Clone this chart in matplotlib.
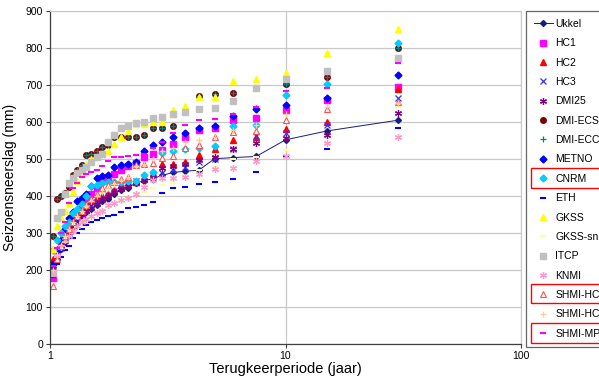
import matplotlib
matplotlib.use("Agg")
import matplotlib.pyplot as plt
from matplotlib.patches import Rectangle
import numpy as np

plt.rcParams['font.family'] = ['Liberation Sans', 'DejaVu Sans']

# Return periods (years), rank 1..29 -> T = 30/rank
ranks = list(range(1, 30))
T = [30.0 / m for m in ranks]

# Values listed from rank 1 (T=30) down to rank 29 (T~1.03)
ukkel = [604, 575, 551, 506, 503, 500, 469, 466, 463, 455, 446, 440, 435, 420, 415,
         405, 392, 385, 375, 365, 355, 345, 332, 318, 298, 275, 255, 228, 200]
hc1 = [695, 660, 632, 611, 604, 582, 578, 560, 540, 523, 514, 505, 488, 480, 470,
       460, 450, 440, 420, 405, 395, 375, 355, 340, 320, 290, 271, 250, 178]
hc2 = [688, 598, 580, 558, 550, 526, 510, 492, 487, 485, 455, 445, 438, 432, 428,
       415, 405, 400, 395, 385, 375, 365, 350, 335, 320, 300, 280, 255, 230]
hc3 = [665, 591, 569, 562, 525, 500, 490, 478, 470, 462, 452, 448, 440, 428, 420,
       412, 402, 392, 382, 372, 362, 350, 338, 320, 300, 280, 258, 235, 205]
dmi25 = [623, 564, 557, 543, 525, 505, 496, 487, 480, 474, 450, 442, 435, 425, 418,
         410, 400, 390, 378, 368, 358, 345, 330, 318, 300, 285, 265, 240, 210]
dmi_ecs = [798, 722, 701, 690, 677, 674, 670, 625, 588, 584, 582, 564, 560, 560, 560,
           560, 537, 532, 520, 513, 510, 483, 470, 456, 424, 406, 400, 391, 290]
dmi_ecc = list(dmi_ecs)
metno = [726, 665, 645, 634, 616, 589, 584, 569, 560, 546, 537, 521, 492, 487, 483,
         478, 456, 452, 447, 425, 405, 395, 385, 355, 340, 310, 280, 250, 215]
cnrm = [812, 702, 672, 592, 588, 535, 528, 525, 521, 515, 465, 456, 440, 440, 438,
        438, 436, 433, 430, 425, 400, 378, 365, 352, 330, 318, 300, 280, 253]
eth = [584, 525, 507, 465, 445, 438, 432, 424, 420, 406, 384, 375, 370, 366, 355,
       348, 345, 339, 335, 328, 321, 310, 300, 285, 265, 253, 235, 215, 180]
gkss = [850, 785, 731, 715, 710, 668, 666, 642, 632, 600, 598, 595, 593, 575, 560,
        539, 520, 513, 505, 500, 487, 460, 440, 410, 380, 360, 340, 318, 255]
gkss_sn = [640, 540, 523, 505, 500, 480, 470, 450, 435, 428, 420, 410, 405, 395, 385,
           378, 370, 362, 355, 345, 335, 325, 315, 300, 290, 275, 255, 235, 195]
itcp = [773, 737, 715, 692, 656, 638, 633, 625, 620, 614, 611, 598, 596, 588, 582,
        564, 546, 512, 505, 490, 478, 470, 462, 449, 435, 405, 355, 340, 190]
knmi = [560, 542, 507, 495, 474, 471, 459, 451, 449, 447, 442, 424, 405, 393, 388,
        380, 375, 360, 352, 345, 338, 328, 318, 305, 292, 280, 262, 240, 195]
shmi_hc = [654, 633, 605, 576, 573, 558, 537, 528, 508, 501, 489, 485, 483, 450, 445,
           438, 430, 420, 405, 390, 375, 360, 345, 330, 310, 290, 265, 230, 157]
shmi_hc2 = [650, 640, 620, 590, 578, 560, 550, 546, 530, 520, 500, 485, 480, 450, 442,
            432, 420, 410, 398, 385, 372, 360, 345, 330, 310, 290, 268, 240, 200]
shmi_mpi = [760, 690, 683, 640, 620, 608, 604, 591, 570, 545, 528, 512, 510, 507, 505,
            504, 495, 480, 470, 465, 460, 450, 435, 420, 380, 330, 300, 260, 210]

x_ticks = [1, 10, 100]
y_ticks = list(range(0, 1000, 100))

fig = plt.figure(figsize=(5.99, 3.77), dpi=100)
ax = fig.add_axes([50 / 599, 1 - 343.7 / 377, 471 / 599, 333 / 377])

ms = 4
star = (6, 2, 0)
series = [
    ("Ukkel", ukkel, dict(color="#1A1A80", marker="D", markersize=3, linestyle="-", linewidth=0.7)),
    ("HC1", hc1, dict(color="#FF00FF", marker="s", markersize=ms, linestyle="none")),
    ("HC2", hc2, dict(color="#FF0000", marker="^", markersize=ms, linestyle="none")),
    ("HC3", hc3, dict(color="#3333FF", marker="x", markersize=ms, markeredgewidth=0.9, linestyle="none")),
    ("DMI25", dmi25, dict(color="#800080", marker=star, markersize=ms + 1, markeredgewidth=0.9, linestyle="none")),
    ("DMI-ECS", dmi_ecs, dict(color="#800000", marker="o", markersize=ms, linestyle="none")),
    ("DMI-ECC", dmi_ecc, dict(color="#008080", marker="+", markersize=ms, markeredgewidth=0.9, linestyle="none")),
    ("METNO", metno, dict(color="#0000FF", marker="D", markersize=ms - 0.5, linestyle="none")),
    ("CNRM", cnrm, dict(color="#00CCFF", marker="D", markersize=ms - 0.5, linestyle="none")),
    ("ETH", eth, dict(color="#0000FF", marker="_", markersize=ms + 1, markeredgewidth=1.5, linestyle="none")),
    ("GKSS", gkss, dict(color="#FFFF00", marker="^", markersize=ms + 0.5, linestyle="none")),
    ("GKSS-sn", gkss_sn, dict(color="#FFFF99", marker="_", markersize=ms + 1, markeredgewidth=1.5, linestyle="none")),
    ("ITCP", itcp, dict(color="#C0C0C0", marker="s", markersize=ms + 0.5, linestyle="none")),
    ("KNMI", knmi, dict(color="#FF99CC", marker=star, markersize=ms + 1, markeredgewidth=0.9, linestyle="none")),
    ("SHMI-HC", shmi_hc, dict(color="#FF5050", marker="^", markersize=ms + 0.5, markerfacecolor="white",
                              markeredgewidth=0.8, linestyle="none")),
    ("SHMI-HC2", shmi_hc2, dict(color="#FFCC99", marker="+", markersize=ms + 1, markeredgewidth=0.9, linestyle="none")),
    ("SHMI-MPI", shmi_mpi, dict(color="#FF00FF", marker="_", markersize=ms + 1, markeredgewidth=1.5, linestyle="none")),
]

handles = []
for name, vals, kw in series:
    h, = ax.plot(T, vals, label=name, **kw)
    handles.append(h)

ax.set_xscale("log")
ax.set_xlim(1, 100)
ax.set_ylim(0, 900)
ax.set_xticks(x_ticks)
ax.set_xticklabels([str(v) for v in x_ticks])
ax.xaxis.set_minor_locator(matplotlib.ticker.NullLocator())
ax.set_yticks(y_ticks)
ax.grid(True, which="major", color="#C8C8C8", linewidth=0.9)
ax.set_axisbelow(True)
ax.tick_params(axis="both", labelsize=7.5, length=3, width=0.8, color="#404040", pad=2)
for side in ["top", "right"]:
    ax.spines[side].set_color("#C8C8C8")
for side in ["left", "bottom"]:
    ax.spines[side].set_color("#404040")
    ax.spines[side].set_linewidth(0.9)

ax.set_xlabel("Terugkeerperiode (jaar)", fontsize=10.5, labelpad=1)
ax.set_ylabel("Seizoensneerslag (mm)", fontsize=10, labelpad=6)

leg = fig.legend(handles=handles, loc="upper left", bbox_to_anchor=(526 / 599, 1 - 11 / 377),
                 bbox_transform=fig.transFigure, fontsize=7.5, frameon=True, fancybox=False,
                 borderaxespad=0, borderpad=0.75, labelspacing=0.9, handlelength=1.8,
                 handletextpad=0.25, edgecolor="#404040")
leg.get_frame().set_linewidth(0.9)

# red highlight boxes around some legend entries
for (y0, y1) in [(168, 188), (284, 303), (323, 343)]:
    fig.patches.append(Rectangle((531 / 599, 1 - y1 / 377), 80 / 599, (y1 - y0) / 377,
                                 transform=fig.transFigure, fill=False, edgecolor="#FF0000",
                                 linewidth=1.0, zorder=10))

fig.savefig("out.png", dpi=100)
